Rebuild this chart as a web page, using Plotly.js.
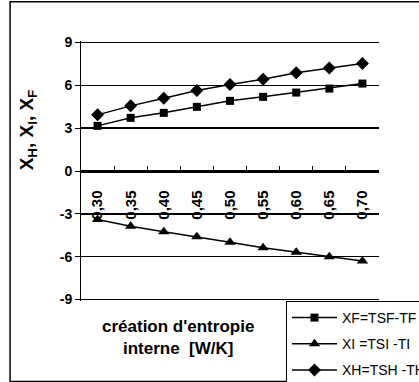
<!DOCTYPE html>
<html>
<head>
<meta charset="utf-8">
<script src="https://cdn.plot.ly/plotly-3.0.1.min.js"></script>
<style>
  html, body { margin: 0; padding: 0; background: #fff; }
  #chart { width: 419px; height: 382px; }
</style>
</head>
<body>
<div id="chart"></div>
<script>
// Data
var categories = ["0,30", "0,35", "0,40", "0,45", "0,50", "0,55", "0,60", "0,65", "0,70"];
var xfValues = [3.16, 3.72, 4.07, 4.49, 4.91, 5.19, 5.49, 5.77, 6.12];
var xiValues = [-3.40, -3.86, -4.26, -4.61, -4.98, -5.38, -5.68, -6.00, -6.30];
var xhValues = [3.93, 4.56, 5.09, 5.63, 6.05, 6.42, 6.88, 7.21, 7.53];
var seriesNames = ["XF=TSF-TF", "XI =TSI -TI", "XH=TSH -TH"];
var yTickVals = [-9, -6, -3, 0, 3, 6, 9];
var yTickText = ["-9", "-6", "-3", "0", "3", "6", "9"];

function bold(arr) { return arr.map(function (s) { return "<b>" + s + "</b>"; }); }

var lineStyle = { color: "#000", width: 1.5 };
var traces = [
  { x: categories, y: xfValues, name: seriesNames[0], type: "scatter", mode: "lines+markers",
    line: lineStyle, marker: { symbol: "square", size: 8, color: "#000" }, legendgroup: "a" },
  { x: categories, y: xiValues, name: seriesNames[1], type: "scatter", mode: "lines+markers",
    line: lineStyle, marker: { symbol: "triangle-up", size: 10, color: "#000" }, legendgroup: "b" },
  { x: categories, y: xhValues, name: seriesNames[2], type: "scatter", mode: "lines+markers",
    line: lineStyle, marker: { symbol: "diamond", size: 10, color: "#000" }, legendgroup: "c" }
];

var layout = {
  width: 419, height: 382,
  margin: { l: 81, r: 40, t: 41, b: 81, autoexpand: false },
  paper_bgcolor: "#fff", plot_bgcolor: "#fff",
  font: { family: "Liberation Sans, Arial, sans-serif", color: "#000" },
  showlegend: true,
  xaxis: {
    type: "category",
    range: [-0.5, 8.5],
    anchor: "free", position: 0.5,
    tickmode: "array", tickvals: categories, ticktext: bold(categories),
    showline: true, linecolor: "#000", linewidth: 1.5,
    showgrid: false, zeroline: false,
    ticks: "inside", ticklen: 5, tickcolor: "#000", tickson: "boundaries",
    tickangle: -90, ticklabelstandoff: 12,
    tickfont: { size: 15, color: "#000" }
  },
  yaxis: {
    range: [-9.1, 9.1],
    tickmode: "array", tickvals: yTickVals, ticktext: bold(yTickText),
    showline: true, linecolor: "#000", linewidth: 1,
    showgrid: true, gridcolor: "#000", gridwidth: 1.3,
    zeroline: false,
    ticks: "outside", ticklen: 5, tickcolor: "#000",
    tickfont: { size: 14, color: "#000" }
  },
  legend: {
    x: 0.688, y: 0.0, xanchor: "left", yanchor: "top",
    bgcolor: "#fff", bordercolor: "#000", borderwidth: 1,
    font: { size: 14, color: "#000" },
    traceorder: "grouped", tracegroupgap: 5, itemwidth: 45
  },
  shapes: [
    { type: "rect", xref: "paper", yref: "paper", x0: -0.238, x1: 1.3, y0: -0.31, y1: 1.151,
      line: { color: "#000", width: 1.5 }, layer: "below" }
  ],
  annotations: [
    { xref: "paper", yref: "paper", x: -0.178, y: 0.66, xanchor: "center", yanchor: "middle",
      showarrow: false, textangle: -90,
      text: "<b>X<sub>H</sub>, X<sub>I</sub>, X<sub>F</sub></b>", font: { size: 19, color: "#000" } },
    { xref: "paper", yref: "paper", x: 0.326, y: -0.14, xanchor: "center", yanchor: "middle",
      showarrow: false, align: "center",
      text: "<b>création d'entropie<br>interne  [W/K]</b>", font: { size: 17, color: "#000" } }
  ]
};

Plotly.newPlot("chart", traces, layout, { displayModeBar: false, staticPlot: true });
</script>
</body>
</html>
